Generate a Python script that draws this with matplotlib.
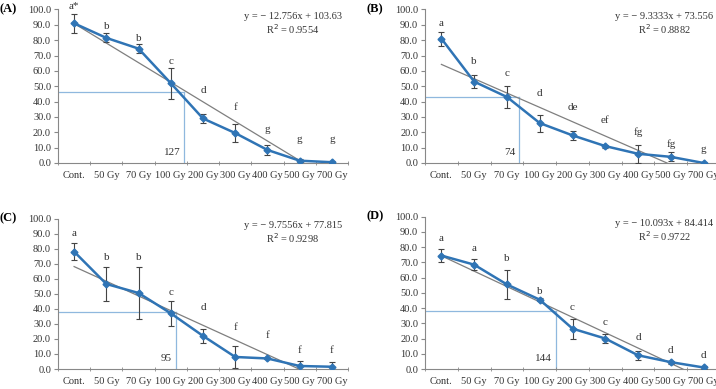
import matplotlib.pyplot as plt
import numpy as np

plt.rcParams['font.family'] = ['Liberation Serif', 'DejaVu Serif']

cats = ["Cont.", "50 Gy", "70 Gy", "100 Gy", "200 Gy", "300 Gy", "400 Gy", "500 Gy", "700 Gy"]

# panel A
a_val = [91, 81.5, 74.5, 52, 29, 19.5, 8.5, 1.5, 0.5]
a_err = [6, 3, 3, 10, 3, 6, 3, 1, 0.7]
a_let = ["a*", "b", "b", "c", "d", "f", "g", "g", "g"]
a_let_y = [102, 89, 81, 66, 47, 36, 22, 15, 15]
# panel B
b_val = [81, 53, 43, 26, 18, 11, 6, 4, 0]
b_err = [4.5, 4, 7, 5.5, 3, 1, 6, 3, 0.5]
b_let = ["a", "b", "c", "d", "de", "ef", "fg", "fg", "g"]
b_let_y = [91, 66, 58, 45, 36, 27.5, 20, 12.5, 8.5]
# panel C
c_val = [78, 56.5, 50.5, 37, 22, 8, 7, 2, 1.5]
c_err = [5.5, 11.5, 17, 8.5, 4.5, 7, 0.5, 3, 3]
c_let = ["a", "b", "b", "c", "d", "f", "f", "f", "f"]
c_let_y = [90, 74, 74, 51, 41, 27.5, 22.5, 12.5, 12.5]
# panel D
d_val = [74.5, 68.5, 55.5, 45.5, 26.5, 20, 9, 4.5, 1]
d_err = [4.5, 3.5, 9.5, 1, 6.5, 3, 3, 1, 1]
d_let = ["a", "a", "b", "b", "c", "c", "d", "d", "d"]
d_let_y = [86, 79, 72.5, 51, 40.5, 30.5, 21, 12, 9]

slopes = [-12.756, -9.3333, -9.7556, -10.093]
icpts = [103.63, 73.556, 77.815, 84.414]
eq_txt = ["y = \u2212 12.756x + 103.63", "y = \u2212 9.3333x + 73.556",
          "y = \u2212 9.7556x + 77.815", "y = \u2212 10.093x + 84.414"]
r2_txt = ["R$^2$ = 0.9554", "R$^2$ = 0.8882", "R$^2$ = 0.9298", "R$^2$ = 0.9722"]
ld_y = [46, 43.3, 38, 38.3]
ld_x = [4.42, 3.38, 4.15, 4.5]
ld_lbl = ["127", "74", "95", "144"]
tags = ["(A)", "(B)", "(C)", "(D)"]

fig = plt.figure(figsize=(7.16, 3.89), dpi=100)
rects = [[0.081, 0.581, 0.405, 0.3946], [0.5936, 0.581, 0.412, 0.3946],
         [0.081, 0.0514, 0.405, 0.3869], [0.5936, 0.0514, 0.412, 0.3915]]
vals = [a_val, b_val, c_val, d_val]
errs = [a_err, b_err, c_err, d_err]
lets = [a_let, b_let, c_let, d_let]
lets_y = [a_let_y, b_let_y, c_let_y, d_let_y]

blue = "#2f74b5"
x = np.arange(1, 10)
for i in range(4):
    ax = fig.add_axes(rects[i])
    ax.set_xlim(0.5, 9.5)
    ax.set_ylim(0, 100)
    # reference lines
    ax.plot([0.5, ld_x[i]], [ld_y[i], ld_y[i]], color="#8fb8de", lw=0.9, zorder=1)
    ax.plot([ld_x[i], ld_x[i]], [0, ld_y[i]], color="#8fb8de", lw=0.9, zorder=1)
    ax.text(ld_x[i] - 0.12, 4, ld_lbl[i], ha="right", va="bottom", fontsize=8, color="#333333")
    # trend
    xt = np.array([1, 9.5])
    ax.plot(xt, slopes[i] * xt + icpts[i], color="#7f7f7f", lw=0.9, zorder=2)
    ax.errorbar(x, vals[i], yerr=errs[i], fmt="none", ecolor="#444444", elinewidth=0.8,
                capsize=2, capthick=0.8, zorder=3)
    ax.plot(x, vals[i], color=blue, lw=1.8, marker="D", ms=3.5, zorder=4)
    for xi, l, ly in zip(x, lets[i], lets_y[i]):
        ax.text(xi, ly, l, ha="center", va="center", fontsize=8, color="#333333")
    ax.text(0.81, 0.955, eq_txt[i], transform=ax.transAxes, ha="center", va="center",
            fontsize=7.5, color="#333333")
    ax.text(0.81, 0.87, r2_txt[i], transform=ax.transAxes, ha="center", va="center",
            fontsize=7.5, color="#333333")
    ax.text(-0.2, 1.0, tags[i], transform=ax.transAxes, ha="left", va="center",
            fontsize=9, fontweight="bold")
    ax.set_yticks(np.arange(0, 101, 10))
    ax.set_yticklabels(["%.1f" % v for v in np.arange(0, 101, 10)], fontsize=7.5, color="#333333")
    ax.set_xticks(x)
    ax.set_xticklabels(cats, fontsize=7.5, color="#333333")
    ax.set_xticks(np.arange(0.5, 10, 1), minor=True)
    ax.tick_params(axis="x", which="major", length=0, pad=6)
    ax.tick_params(axis="x", which="minor", length=3, color="#888888", direction="inout")
    ax.tick_params(axis="y", length=3, color="#888888", pad=2)
    for s in ["top", "right"]:
        ax.spines[s].set_visible(False)
    for s in ["left", "bottom"]:
        ax.spines[s].set_color("#888888")
        ax.spines[s].set_linewidth(0.8)

fig.savefig("out.png", dpi=100)
